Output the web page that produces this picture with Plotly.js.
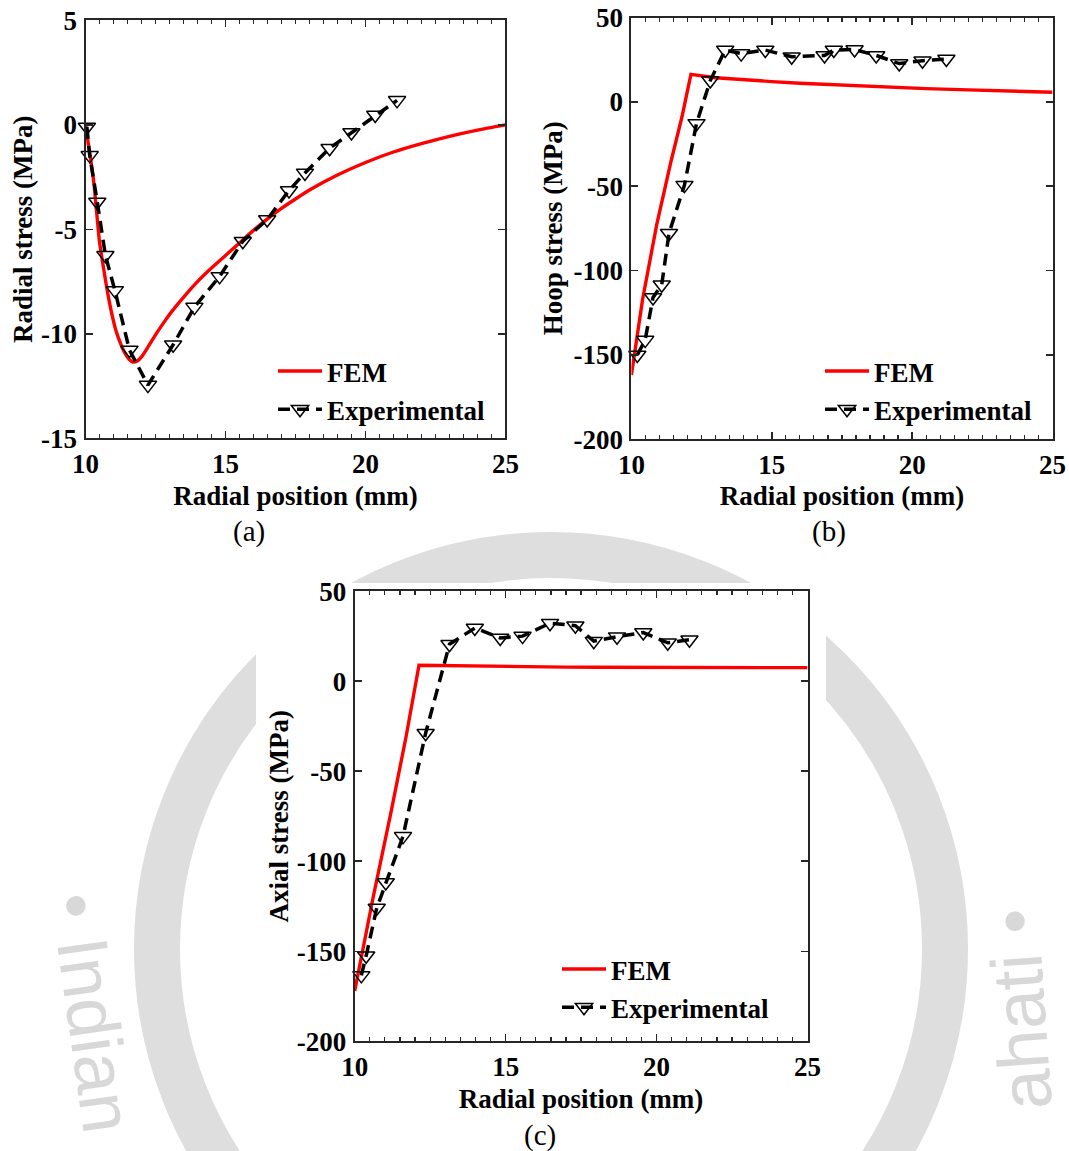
<!DOCTYPE html>
<html>
<head>
<meta charset="utf-8">
<script src="https://cdn.plot.ly/plotly-3.0.1.min.js"></script>
<style>
  html, body { margin: 0; padding: 0; background: #ffffff; }
  #chart { width: 1069px; height: 1151px; }
</style>
</head>
<body>
<div id="chart"></div>
<script>
// ---- (a) radial stress ----
const radialFemR = [10, 10.1, 10.2, 10.3, 10.4, 10.5, 10.65, 10.8, 10.95, 11.1, 11.25, 11.4, 11.55, 11.7, 11.85, 12.0, 12.2, 12.5, 12.8, 13.1, 13.5, 14.0, 14.5, 15.0, 15.5, 16.0, 16.5, 17.0, 17.5, 18.0, 19.0, 20.0, 21.0, 22.0, 23.0, 24.0, 25.0];
const radialFemS = [0, -0.9, -1.8, -2.8, -4.2, -5.6, -6.9, -8.1, -9.1, -9.9, -10.45, -10.9, -11.2, -11.35, -11.3, -11.1, -10.7, -10.05, -9.45, -8.9, -8.25, -7.5, -6.85, -6.25, -5.65, -5.05, -4.5, -4.0, -3.55, -3.12, -2.4, -1.8, -1.3, -0.9, -0.55, -0.25, 0];
const radialExpR = [10.05, 10.15, 10.42, 10.71, 11.05, 11.57, 12.23, 13.13, 13.89, 14.79, 15.62, 16.49, 17.27, 17.84, 18.72, 19.50, 20.35, 21.13];
const radialExpS = [-0.1, -1.46, -3.69, -6.24, -7.92, -10.77, -12.45, -10.52, -8.72, -7.25, -5.57, -4.53, -3.14, -2.30, -1.12, -0.37, 0.47, 1.17];

// ---- (b) hoop stress ----
const hoopFemR = [10, 10.4, 10.9, 11.4, 11.8, 12.12, 13.0, 14.0, 15.0, 16.0, 17.5, 19.0, 20.5, 22.0, 23.5, 25];
const hoopFemS = [-162, -117, -73, -36, -9, 16.3, 14.3, 13.0, 12.0, 11.0, 9.9, 8.7, 7.8, 7.1, 6.4, 5.7];
const hoopExpR = [10.21, 10.49, 10.77, 11.08, 11.34, 11.89, 12.32, 12.81, 13.34, 13.91, 14.77, 15.71, 16.88, 17.21, 17.95, 18.72, 19.54, 20.37, 21.22];
const hoopExpS = [-150.1, -141.3, -116.0, -108.5, -77.9, -49.4, -12.8, 12.6, 30.7, 28.6, 30.7, 26.7, 27.5, 30.7, 31.0, 27.5, 22.7, 24.4, 25.4];

// ---- (c) axial stress ----
const axialFemR = [10, 10.6, 11.2, 11.7, 12.13, 12.5, 13.0, 14.0, 15.0, 16.0, 17.0, 18.0, 19.0, 20.0, 21.0, 22.0, 23.0, 24.0, 25.0];
const axialFemS = [-172, -121, -73, -31, 8.8, 8.7, 8.5, 8.2, 8.0, 7.9, 7.8, 7.7, 7.6, 7.5, 7.5, 7.5, 7.5, 7.5, 7.5];
const axialExpR = [10.22, 10.38, 10.73, 11.03, 11.60, 12.35, 13.14, 13.98, 14.82, 15.56, 16.47, 17.31, 17.92, 18.69, 19.56, 20.37, 21.09];
const axialExpS = [-163.4, -152.5, -126.0, -111.8, -86.2, -28.9, 20.5, 29.5, 24.0, 25.0, 32.2, 30.8, 22.2, 24.7, 27.0, 21.3, 23.0];

// ---- tick labels ----
const positionTicks = [10, 15, 20, 25];
const positionTickText = ['10', '15', '20', '25'];
const radialTicks = [-15, -10, -5, 0, 5];
const radialTickText = ['-15', '-10', '-5', '0', '5'];
const stressTicks = [-200, -150, -100, -50, 0, 50];
const stressTickText = ['-200', '-150', '-100', '-50', '0', '50'];

const seriesNames = ['FEM', 'Experimental'];
const panelLabels = ['(a)', '(b)', '(c)'];
const xTitle = 'Radial position (mm)';
const yTitles = ['Radial stress (MPa)', 'Hoop stress (MPa)', 'Axial stress (MPa)'];
const sealTexts = ['• Indian', 'ahati •'];

// ---- page geometry (pixels) ----
const W = 1069, H = 1151;
const px = v => v / W;
const py = v => 1 - v / H;

const SERIF = 'Liberation Serif, Times New Roman, serif';
const boldFont = { family: SERIF, size: 27, color: '#000000', weight: 'bold' };
const AXIS_COLOR = '#262626';

function femTrace(x, y, xa, ya, legend, shape) {
  return {
    x, y, xaxis: xa, yaxis: ya, legend,
    name: seriesNames[0], type: 'scatter', mode: 'lines',
    line: { color: '#ff0000', width: 3.4, shape: shape || 'linear', smoothing: 0.6 }
  };
}
function expTrace(x, y, xa, ya, legend) {
  return {
    x, y, xaxis: xa, yaxis: ya, legend,
    name: seriesNames[1], type: 'scatter', mode: 'lines+markers', cliponaxis: false,
    line: { color: '#000000', width: 3.5, dash: '12px,7px' },
    marker: { symbol: 'triangle-down-open', size: 15, color: '#000000', line: { width: 1.5, color: '#000000' } }
  };
}

function xAxis(left, right, anchor) {
  return {
    domain: [px(left), px(right)], anchor, range: [10, 25],
    tickmode: 'array', tickvals: positionTicks, ticktext: positionTickText,
    ticks: 'inside', ticklen: 7, tickwidth: 1.5, tickcolor: AXIS_COLOR,
    minor: { dtick: 0.5, ticks: 'inside', ticklen: 4, tickwidth: 1.2, tickcolor: AXIS_COLOR, showgrid: false },
    showline: true, linewidth: 2, linecolor: AXIS_COLOR, mirror: 'ticks',
    showgrid: false, zeroline: false, tickfont: boldFont, ticklabelstandoff: 0,
    title: { text: xTitle, font: boldFont, standoff: 8 }, fixedrange: true
  };
}
function yAxis(top, bottom, anchor, range, vals, text, title, standoff) {
  return {
    domain: [py(bottom), py(top)], anchor, range,
    tickmode: 'array', tickvals: vals, ticktext: text,
    ticks: 'inside', ticklen: 7, tickwidth: 1.5, tickcolor: AXIS_COLOR,
    showline: true, linewidth: 2, linecolor: AXIS_COLOR, mirror: 'ticks',
    showgrid: false, zeroline: false, tickfont: boldFont, ticklabelstandoff: 1,
    title: { text: title, font: boldFont, standoff }, fixedrange: true
  };
}
function legendAt(left, top) {
  return {
    x: px(left), y: py(top), xanchor: 'left', yanchor: 'top',
    bgcolor: 'rgba(0,0,0,0)', borderwidth: 0, font: boldFont,
    itemwidth: 44, tracegroupgap: 0, traceorder: 'normal'
  };
}

const data = [
  femTrace(radialFemR, radialFemS, 'x', 'y', 'legend', 'spline'),
  expTrace(radialExpR, radialExpS, 'x', 'y', 'legend'),
  femTrace(hoopFemR, hoopFemS, 'x2', 'y2', 'legend2'),
  expTrace(hoopExpR, hoopExpS, 'x2', 'y2', 'legend2'),
  femTrace(axialFemR, axialFemS, 'x3', 'y3', 'legend3'),
  expTrace(axialExpR, axialExpS, 'x3', 'y3', 'legend3')
];

// faint institute seal behind the panels
const WM = '#dedede';
const WM_TEXT = '#d8d8d8';
const ringC = { x: 551, y: 949 }, ringR = 394;
const shapes = [
  { type: 'circle', xref: 'paper', yref: 'paper', layer: 'below',
    x0: px(ringC.x - ringR), x1: px(ringC.x + ringR), y0: py(ringC.y + ringR), y1: py(ringC.y - ringR),
    line: { color: WM, width: 46 }, fillcolor: 'rgba(0,0,0,0)' },
  // white backing for the top two panels
  { type: 'rect', xref: 'paper', yref: 'paper', layer: 'below',
    x0: 0, x1: 1, y0: py(512), y1: 1, fillcolor: '#ffffff', line: { width: 0 } },
  // white backing for panel (c)
  { type: 'rect', xref: 'paper', yref: 'paper', layer: 'below',
    x0: px(256), x1: px(826), y0: py(1118), y1: py(583), fillcolor: '#ffffff', line: { width: 0 } }
];

const panelLabelFont = { family: SERIF, size: 29, color: '#000000' };
const wmFont = { family: 'Liberation Sans, Arial, sans-serif', size: 72, color: WM_TEXT };
const annotations = [
  { text: panelLabels[0], x: px(249), y: py(531), xref: 'paper', yref: 'paper', showarrow: false, font: panelLabelFont, xanchor: 'center', yanchor: 'middle' },
  { text: panelLabels[1], x: px(829), y: py(531), xref: 'paper', yref: 'paper', showarrow: false, font: panelLabelFont, xanchor: 'center', yanchor: 'middle' },
  { text: panelLabels[2], x: px(540), y: py(1135), xref: 'paper', yref: 'paper', showarrow: false, font: panelLabelFont, xanchor: 'center', yanchor: 'middle' },
  { text: sealTexts[0], x: px(92), y: py(1012), xref: 'paper', yref: 'paper', showarrow: false, textangle: 82,
    xanchor: 'center', yanchor: 'middle', font: wmFont },
  { text: sealTexts[1], x: px(1020), y: py(1010), xref: 'paper', yref: 'paper', showarrow: false, textangle: -94,
    xanchor: 'center', yanchor: 'middle', font: wmFont }
];

const layout = {
  width: W, height: H,
  margin: { l: 0, r: 0, t: 0, b: 0 },
  paper_bgcolor: '#ffffff', plot_bgcolor: '#ffffff',
  font: { family: SERIF, color: '#000000' },
  xaxis: xAxis(85.5, 505.4, 'y'),
  yaxis: yAxis(20.3, 438.4, 'x', [-15, 5], radialTicks, radialTickText, yTitles[0], 1),
  xaxis2: xAxis(631.4, 1052.5, 'y2'),
  yaxis2: yAxis(17.5, 439.1, 'x2', [-200, 50], stressTicks, stressTickText, yTitles[1], 3),
  xaxis3: xAxis(354.7, 807.5, 'y3'),
  yaxis3: yAxis(591.1, 1041.3, 'x3', [-200, 50], stressTicks, stressTickText, yTitles[2], 0),
  legend: legendAt(273, 347),
  legend2: legendAt(820, 347),
  legend3: legendAt(557, 945),
  shapes, annotations
};

Plotly.newPlot('chart', data, layout, { displayModeBar: false, staticPlot: true });
</script>
</body>
</html>
